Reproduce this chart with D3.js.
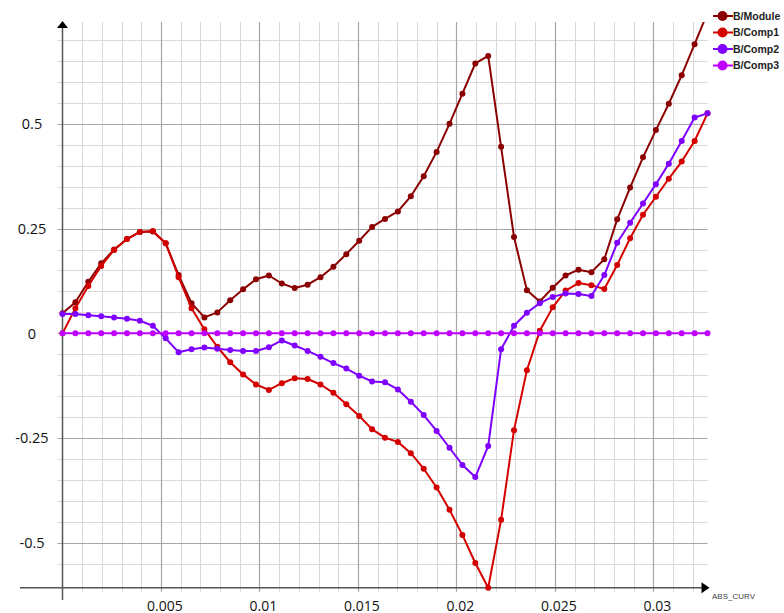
<!DOCTYPE html>
<html><head><meta charset="utf-8">
<script src="https://cdn.jsdelivr.net/npm/d3@7"></script>
<style>body{margin:0;background:#fff}svg{display:block}</style>
</head><body>
<svg id="c" width="784" height="613"></svg>
<script>
const absCurv = [0, 0.000655, 0.00131, 0.001965, 0.00262, 0.003275, 0.00393, 0.004585, 0.00524, 0.005895,
 0.00655, 0.007205, 0.00786, 0.008515, 0.00917, 0.009825, 0.01048, 0.011135, 0.01179, 0.012445,
 0.0131, 0.013755, 0.01441, 0.015065, 0.01572, 0.016375, 0.01703, 0.017685, 0.01834, 0.018995,
 0.01965, 0.020305, 0.02096, 0.021615, 0.02227, 0.022925, 0.02358, 0.024235, 0.02489, 0.025545,
 0.0262, 0.026855, 0.02751, 0.028165, 0.02882, 0.029475, 0.03013, 0.030785, 0.03144, 0.032095, 0.03275];
const moduleVals = [0.048, 0.074, 0.123, 0.167, 0.200, 0.225, 0.242, 0.243, 0.215, 0.139,
 0.072, 0.038, 0.050, 0.079, 0.105, 0.129, 0.138, 0.119, 0.108, 0.116,
 0.134, 0.159, 0.189, 0.221, 0.254, 0.273, 0.291, 0.327, 0.375, 0.433,
 0.500, 0.572, 0.644, 0.662, 0.445, 0.230, 0.103, 0.076, 0.109, 0.138,
 0.152, 0.146, 0.177, 0.272, 0.348, 0.420, 0.485, 0.548, 0.616, 0.690, 0.765];
const comp1Vals = [0, 0.060, 0.113, 0.161, 0.199, 0.225, 0.242, 0.244, 0.215, 0.134,
 0.060, 0.010, -0.032, -0.069, -0.098, -0.122, -0.135, -0.119, -0.107, -0.109,
 -0.122, -0.142, -0.169, -0.197, -0.229, -0.249, -0.259, -0.286, -0.323, -0.368,
 -0.421, -0.481, -0.548, -0.607, -0.445, -0.231, -0.088, 0.006, 0.062, 0.102,
 0.120, 0.115, 0.106, 0.163, 0.227, 0.283, 0.326, 0.369, 0.410, 0.459, 0.525];
const comp2Vals = [0.046, 0.046, 0.043, 0.041, 0.038, 0.035, 0.030, 0.018, -0.012, -0.045,
 -0.038, -0.034, -0.037, -0.040, -0.042, -0.042, -0.033, -0.017, -0.029, -0.042,
 -0.056, -0.071, -0.084, -0.101, -0.115, -0.117, -0.134, -0.163, -0.195, -0.233,
 -0.273, -0.314, -0.343, -0.269, -0.038, 0.018, 0.049, 0.072, 0.087, 0.095,
 0.094, 0.089, 0.139, 0.216, 0.264, 0.310, 0.356, 0.405, 0.459, 0.515, 0.525];
const comp3Vals = [0,0,0,0,0,0,0,0,0,0, 0,0,0,0,0,0,0,0,0,0, 0,0,0,0,0,0,0,0,0,0,
 0,0,0,0,0,0,0,0,0,0, 0,0,0,0,0,0,0,0,0,0, 0];
const seriesNames = ["B/Module", "B/Comp1", "B/Comp2", "B/Comp3"];
const seriesColors = ["#8b0000", "#d40000", "#7f00ff", "#c000ff"];
const xTickVals = [0.005, 0.01, 0.015, 0.02, 0.025, 0.03];
const xTickLabels = ["0.005", "0.01", "0.015", "0.02", "0.025", "0.03"];
const yTickVals = [-0.5, -0.25, 0, 0.25, 0.5];
const yTickLabels = ["-0.5", "-0.25", "0", "0.25", "0.5"];
const xLabel = "ABS_CURV";

const allVals = [moduleVals, comp1Vals, comp2Vals, comp3Vals];
const svg = d3.select("#c");
const L = 62.5, R = 707.5, T = 22, B = 587.7;
const x = d3.scaleLinear().domain([0, 0.03275]).range([L, R]);
const y = d3.scaleLinear().domain([-0.607, 0.743]).range([B, T]);

// grid
const minorX = d3.range(1, 33).map(d => d * 0.001).filter(v => !xTickVals.some(t => Math.abs(t - v) < 1e-9));
const minorY = d3.range(-11, 15).map(d => d * 0.05).filter(v => !yTickVals.some(t => Math.abs(t - v) < 1e-9));
const g = svg.append("g");
g.selectAll(".mx").data(minorX).join("line")
  .attr("x1", d => Math.round(x(d)) + 0.5).attr("x2", d => Math.round(x(d)) + 0.5)
  .attr("y1", T).attr("y2", B + 4).attr("stroke", "#d9d9d9").attr("stroke-width", 1);
g.selectAll(".my").data(minorY).join("line")
  .attr("y1", d => Math.round(y(d)) + 0.5).attr("y2", d => Math.round(y(d)) + 0.5)
  .attr("x1", L - 5).attr("x2", R).attr("stroke", "#d9d9d9").attr("stroke-width", 1);
g.selectAll(".Mx").data(xTickVals).join("line")
  .attr("x1", d => Math.round(x(d)) + 0.5).attr("x2", d => Math.round(x(d)) + 0.5)
  .attr("y1", T).attr("y2", B + 4).attr("stroke", "#a6a6a6").attr("stroke-width", 1.2);
g.selectAll(".My").data(yTickVals).join("line")
  .attr("y1", d => Math.round(y(d)) + 0.5).attr("y2", d => Math.round(y(d)) + 0.5)
  .attr("x1", L - 5).attr("x2", R).attr("stroke", "#a6a6a6").attr("stroke-width", 1.2);

// axes
svg.append("line").attr("x1", 20).attr("x2", R - 4).attr("y1", B).attr("y2", B)
  .attr("stroke", "#555").attr("stroke-width", 1.5);
svg.append("path").attr("d", `M${R - 6},${B - 5.5}L${R + 2},${B}L${R - 6},${B + 5.5}Z`).attr("fill", "#000");
svg.append("line").attr("x1", L).attr("x2", L).attr("y1", T + 6).attr("y2", 600)
  .attr("stroke", "#555").attr("stroke-width", 1.5);
svg.append("path").attr("d", `M${L - 5.5},${T + 6}L${L},${T - 1}L${L + 5.5},${T + 6}Z`).attr("fill", "#000");

// tick labels
svg.selectAll(".yl").data(yTickVals).join("text")
  .attr("x", 32).attr("y", d => y(d)).attr("dy", "0.36em")
  .attr("text-anchor", "middle").attr("font-family", "Open Sans, sans-serif")
  .attr("font-size", 14.5).attr("fill", "#111")
  .text((d, i) => yTickLabels[i]);
svg.selectAll(".xl").data(xTickVals).join("text")
  .attr("x", d => x(d) + 4).attr("y", 610.5)
  .attr("text-anchor", "middle").attr("font-family", "Open Sans, sans-serif")
  .attr("font-size", 14).attr("fill", "#111")
  .text((d, i) => xTickLabels[i]);
svg.append("text").attr("x", 712).attr("y", 599).attr("font-family", "Liberation Sans, Arial, sans-serif")
  .attr("font-size", 8).attr("fill", "#444").text(xLabel);

// series
svg.append("clipPath").attr("id", "clip").append("rect")
  .attr("x", L - 6).attr("y", T).attr("width", R - L + 12).attr("height", B - T + 6);
const plot = svg.append("g").attr("clip-path", "url(#clip)");
const line = d3.line().x(d => x(d[0])).y(d => y(d[1]));
allVals.forEach((vals, si) => {
  const pts = absCurv.map((xv, i) => [xv, vals[i]]);
  const sg = plot.append("g");
  sg.append("path").datum(pts).attr("d", line).attr("fill", "none")
    .attr("stroke", seriesColors[si]).attr("stroke-width", 2).attr("stroke-linejoin", "round");
  sg.selectAll("circle").data(pts).join("circle")
    .attr("cx", d => x(d[0])).attr("cy", d => y(d[1])).attr("r", 3)
    .attr("fill", seriesColors[si]);
});

// legend
const lg = svg.append("g");
seriesNames.forEach((n, i) => {
  const yy = 16 + i * 16.5;
  lg.append("line").attr("x1", 713).attr("x2", 733).attr("y1", yy).attr("y2", yy)
    .attr("stroke", seriesColors[i]).attr("stroke-width", 2);
  lg.append("circle").attr("cx", 722.5).attr("cy", yy).attr("r", 5).attr("fill", seriesColors[i]);
  lg.append("text").attr("x", 733).attr("y", yy).attr("dy", "0.36em")
    .attr("font-family", "Liberation Sans, Arial, sans-serif").attr("font-size", 10.5)
    .attr("font-weight", "bold").attr("fill", "#222").text(n);
});
</script>
</body></html>
